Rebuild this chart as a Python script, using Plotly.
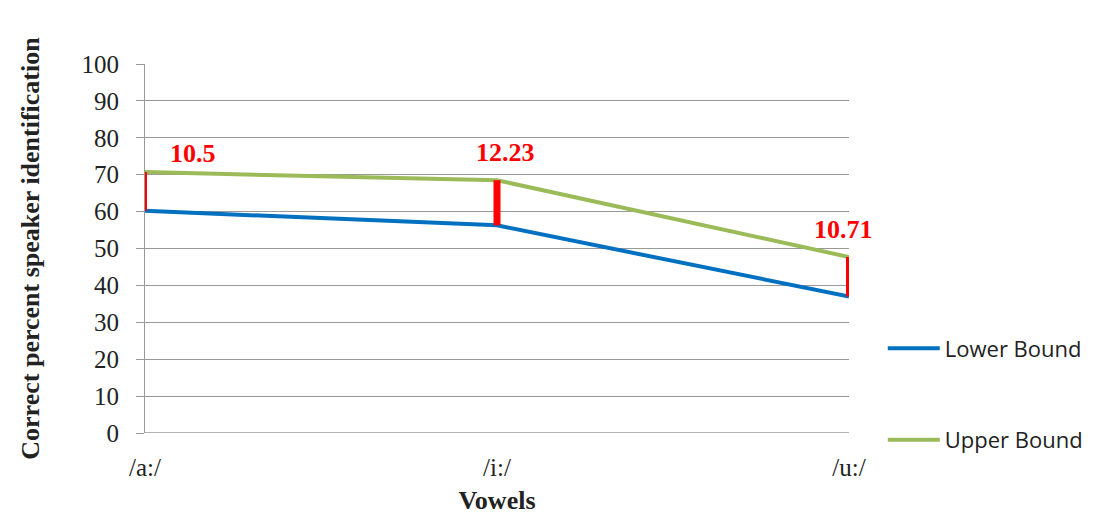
import plotly.graph_objects as go

categories = ["/a:/", "/i:/", "/u:/"]
upper = [70.7, 68.5, 47.7]
diffs = [10.5, 12.23, 10.71]
lower = [round(u - d, 2) for u, d in zip(upper, diffs)]
diff_labels = ["10.5", "12.23", "10.71"]
yticks = list(range(0, 101, 10))

xpos = list(range(len(categories)))

fig = go.Figure()
fig.add_trace(go.Scatter(x=xpos, y=lower, mode="lines", name="Lower Bound",
                         line=dict(color="#0070C0", width=4), legendgroup="a"))
fig.add_trace(go.Scatter(x=xpos, y=upper, mode="lines", name="Upper Bound",
                         line=dict(color="#9BBB59", width=4), legendgroup="b"))

bar_widths = [4, 7, 6]
for i in xpos:
    fig.add_trace(go.Scatter(x=[xpos[i], xpos[i]], y=[lower[i], upper[i]], mode="lines",
                             line=dict(color="#FF0000", width=bar_widths[i]),
                             showlegend=False, hoverinfo="skip"))

label_shift = [48, 8, -6]
label_yshift = [19, 28, 27]
for i in xpos:
    fig.add_annotation(x=xpos[i], y=upper[i], text="<b>" + diff_labels[i] + "</b>",
                       showarrow=False, xshift=label_shift[i], yshift=label_yshift[i],
                       font=dict(family="Liberation Serif", size=26, color="#FF0000"))

fig.update_layout(
    width=1092, height=507,
    margin=dict(l=137, r=247, t=56, b=82),
    paper_bgcolor="white", plot_bgcolor="white",
    showlegend=True,
    legend=dict(x=1.048, y=0.286, xanchor="left", yanchor="top",
                traceorder="grouped", tracegroupgap=60, itemwidth=52,
                font=dict(family="Open Sans", size=22, color="#222")),
    xaxis=dict(range=[0, 2], tickvals=xpos, ticktext=categories,
               showgrid=False, zeroline=False, showline=False, automargin=False,
               tickfont=dict(family="Liberation Serif", size=25, color="#222"),
               ticks="", ticklabelstandoff=17,
               title=dict(text="<b>Vowels</b>", standoff=16,
                          font=dict(family="Liberation Serif", size=26, color="#222"))),
    yaxis=dict(range=[0, 100], tickvals=yticks, showgrid=True, gridcolor="#999999",
               gridwidth=1, zeroline=False, showline=True, linecolor="#999999",
               ticks="outside", ticklen=8, tickcolor="#999999", automargin=False,
               ticklabelstandoff=12,
               tickfont=dict(family="Liberation Serif", size=25, color="#222"),
               title=dict(text="<b>Correct percent speaker identification</b>", standoff=34,
                          font=dict(family="Liberation Serif", size=26, color="#222"))),
)
fig.add_shape(type="line", xref="paper", yref="y", x0=0, x1=1, y0=0, y1=0,
              line=dict(color="#999999", width=1.5))

fig.write_html("out.html")
